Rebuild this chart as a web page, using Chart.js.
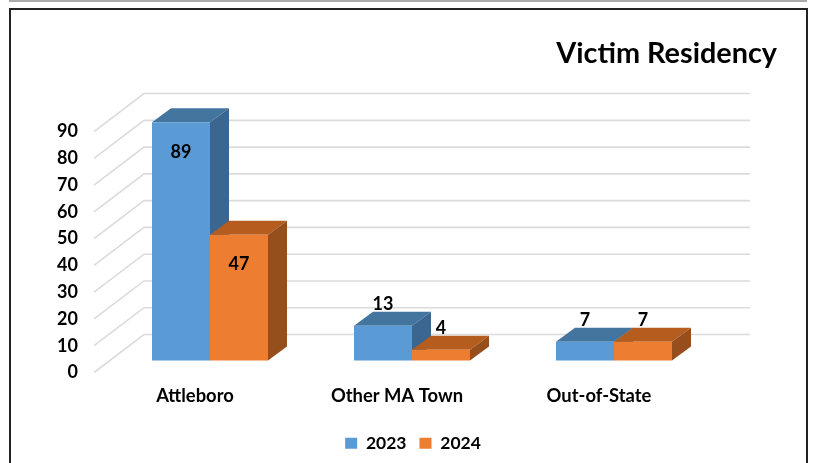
<!DOCTYPE html>
<html>
<head>
<meta charset="utf-8">
<script src="https://cdn.jsdelivr.net/npm/chart.js@4"></script>
<style>
html,body{margin:0;padding:0;background:#fff;overflow:hidden;width:814px;height:463px}
#top{position:absolute;left:9px;top:0;width:798px;height:2px;background:#aaa}
#frame{position:absolute;left:9px;top:8px;width:795px;height:470px;border:2px solid #222}
canvas{position:absolute;left:0;top:0}
</style>
</head>
<body>
<div id="top"></div><div id="frame"></div>
<canvas id="c" width="814" height="463"></canvas>
<script>
const categories = ["Attleboro", "Other MA Town", "Out-of-State"];
const series2023 = [89, 13, 7];
const series2024 = [47, 4, 7];
const yearLabels = ["2023", "2024"];
const titleText = "Victim Residency";
const FONT = "Lato";
const faces = [
  {front:"#5B9BD5", top:"#43759F", side:"#3A668F"},
  {front:"#ED7D31", top:"#B55C1F", side:"#964F1C"}
];
const wall = {dx:50, dy:38};
const depth = {dx:19, dy:14};
const shift = {x:15, y:-12};

const threeD = {
  id:"threeD",
  afterLayout(chart){
    chart.titleBlock.left += 77; chart.titleBlock.right += 77;
    chart.legend.left += 63; chart.legend.right += 63;
  },
  beforeDatasetsDraw(chart){
    const {ctx, scales:{y}, chartArea:a} = chart;
    ctx.save();
    ctx.strokeStyle = "#DBDBDB"; ctx.lineWidth = 1.6;
    y.ticks.forEach(t=>{
      const py = y.getPixelForValue(t.value);
      ctx.beginPath();
      ctx.moveTo(a.left, py);
      ctx.lineTo(a.left+wall.dx, py-wall.dy);
      ctx.lineTo(a.right+wall.dx, py-wall.dy);
      ctx.stroke();
    });
    ctx.translate(shift.x, shift.y);
    chart.data.datasets.forEach((ds,i)=>{
      const f = faces[i];
      chart.getDatasetMeta(i).data.forEach(b=>{
        const l=b.x-b.width/2, r=b.x+b.width/2, t=b.y, bot=b.base;
        ctx.fillStyle=f.top;
        ctx.beginPath();
        ctx.moveTo(l,t);ctx.lineTo(l+depth.dx,t-depth.dy);ctx.lineTo(r+depth.dx,t-depth.dy);ctx.lineTo(r,t);
        ctx.closePath();ctx.fill();
        ctx.fillStyle=f.side;
        ctx.beginPath();
        ctx.moveTo(r,t);ctx.lineTo(r+depth.dx,t-depth.dy);ctx.lineTo(r+depth.dx,bot-depth.dy);ctx.lineTo(r,bot);
        ctx.closePath();ctx.fill();
      });
    });
    ctx.restore();
  },
  beforeDatasetDraw(chart){
    chart.ctx.save();
    chart.ctx.translate(shift.x, shift.y);
  },
  afterDatasetDraw(chart){ chart.ctx.restore(); },
  afterDatasetsDraw(chart){
    const ctx = chart.ctx;
    ctx.save();
    ctx.font = "bold 18px "+FONT;
    ctx.fillStyle = "#000";
    ctx.textAlign = "center"; ctx.textBaseline = "middle";
    chart.data.datasets.forEach((ds,i)=>{
      chart.getDatasetMeta(i).data.forEach((b,j)=>{
        const v = ds.data[j];
        const off = v>=20 ? 30 : -22;
        ctx.fillText(String(v), b.x+shift.x, b.y+shift.y+off);
      });
    });
    ctx.restore();
  }
};

new Chart(document.getElementById("c"),{
  type:"bar",
  data:{
    labels:categories,
    datasets:[
      {label:yearLabels[0], data:series2023, backgroundColor:faces[0].front, clip:false},
      {label:yearLabels[1], data:series2024, backgroundColor:faces[1].front, clip:false}
    ]
  },
  options:{
    responsive:false, animation:false,
    layout:{padding:{left:0,right:114,top:0,bottom:1}},
    datasets:{bar:{barPercentage:1, categoryPercentage:116/202}},
    plugins:{
      tooltip:{enabled:false},
      title:{display:true,text:titleText,align:"end",color:"#000",
        font:{family:FONT,size:28.8,weight:"bold",lineHeight:1.2},
        padding:{top:36,bottom:61}},
      legend:{position:"bottom",
        labels:{boxWidth:12,boxHeight:11,padding:13,color:"#000",
          font:{family:FONT,size:17.5,weight:"bold"}}}
    },
    scales:{
      x:{grid:{display:false},border:{display:false},
        afterFit:s=>{s.height=49;},
        ticks:{padding:5,maxRotation:0,color:"#000",font:{family:FONT,size:18.4,weight:"bold"}}},
      y:{min:0,max:90,grid:{display:false},border:{display:false},
        afterFit:s=>{s.width=94;},
        ticks:{stepSize:10,padding:8,color:"#000",font:{family:FONT,size:18,weight:"bold"}}}
    }
  },
  plugins:[threeD]
});
</script>
</body>
</html>
